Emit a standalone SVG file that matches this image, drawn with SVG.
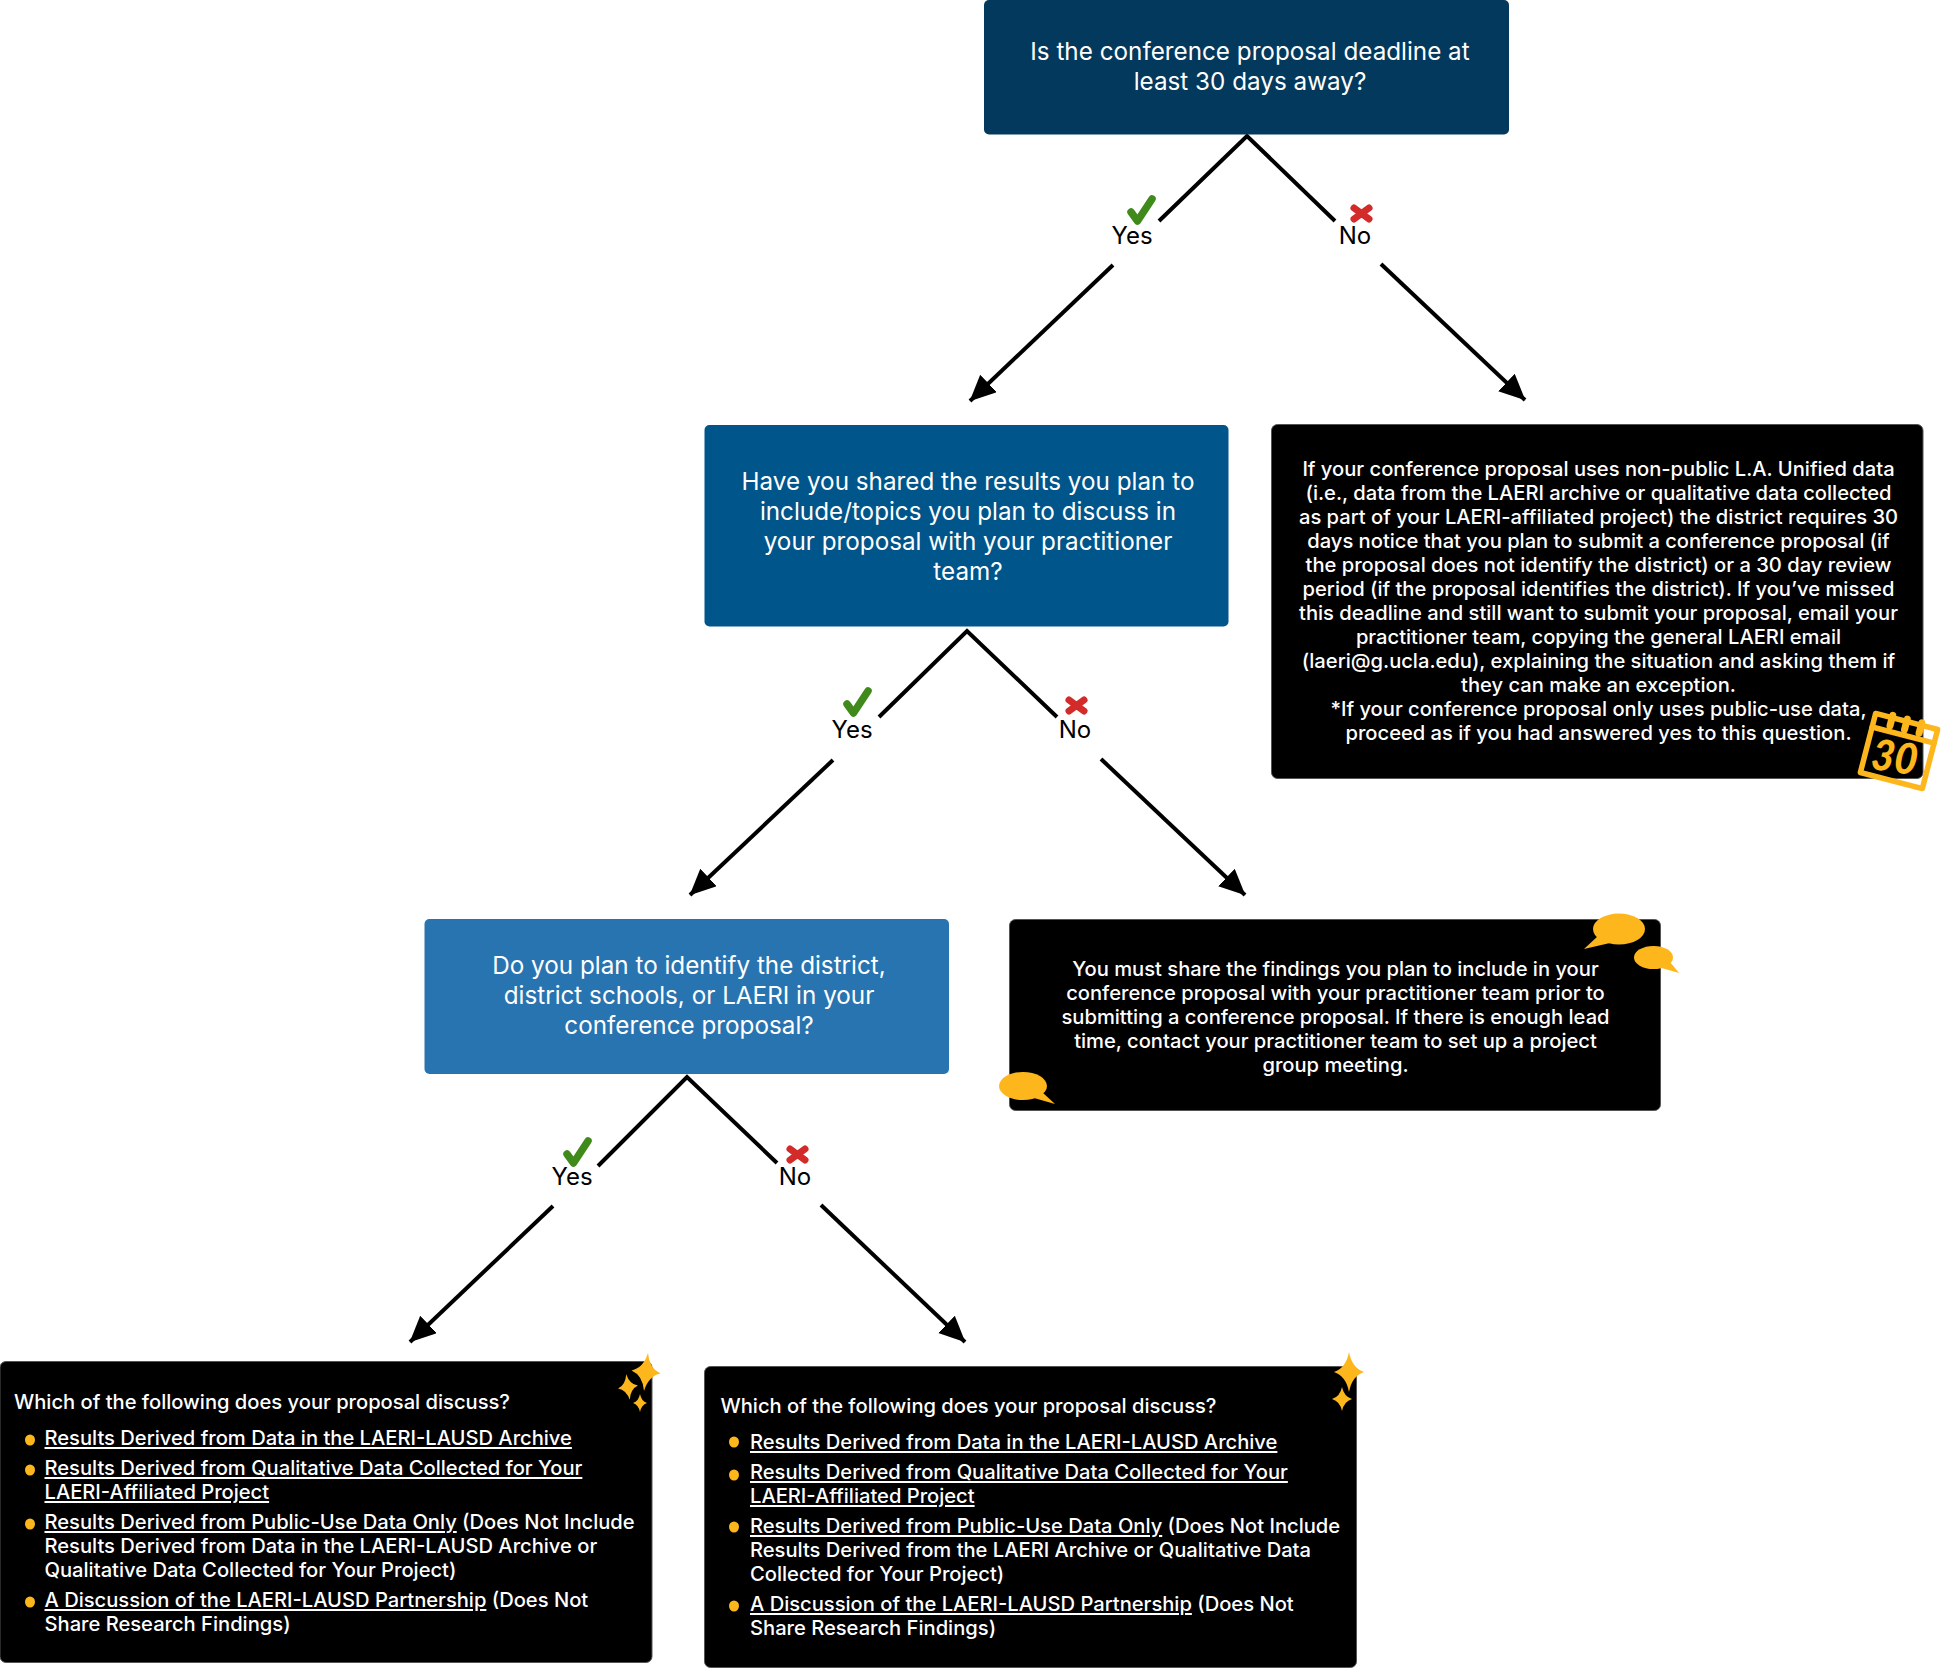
<svg xmlns="http://www.w3.org/2000/svg" width="1944" height="1669" viewBox="0 0 1944 1669">
<style>
text{font-family:Inter,"Noto Sans","Liberation Sans",sans-serif;fill:#fff}
.q{font-size:24.250px;text-anchor:middle}
.b{font-size:20.150px;font-weight:500;text-anchor:middle}
.l{font-size:20.150px;font-weight:500}
.u{text-decoration:underline;text-underline-offset:4px;text-decoration-thickness:1.500px}
.yn{font-size:24px;fill:#000;text-anchor:middle}
.blk{fill:#000;stroke:#555;stroke-width:1}
.g{fill:#fdb71c}
.c{stroke:#000;stroke-width:4;fill:none}
.a{marker-end:url(#ah)}
.chk{fill:none;stroke:#3f8a1b;stroke-width:7.500;stroke-linecap:round;stroke-linejoin:round}
.x{fill:none;stroke:#d32a2a;stroke-width:7;stroke-linecap:round}
.cal{fill:none;stroke:#fdb71c;stroke-width:5.500;stroke-linejoin:round;stroke-linecap:round}
</style>
<defs>
<marker id="ah" markerUnits="userSpaceOnUse" markerWidth="30" markerHeight="30" refX="25.500" refY="12" orient="auto"><path d="M0 0L26 12L0 24Z" fill="#000"/></marker>
<g id="chk"><path class="chk" d="M0 13L6.500 22L21 0"/></g>
<g id="xm"><path class="x" d="M0 0L15 11M15 0L0 11"/></g>
<path id="sp" d="M0 -1Q.2 -.2 1 0Q.2 .2 0 1Q-.2 .2 -1 0Q-.2 -.2 0 -1Z"/>
</defs>
<g id="connectors">
<path class="c" d="M1159 221L1247 136L1335 221"/>
<line class="c a" x1="1113" y1="265" x2="970" y2="401"/>
<line class="c a" x1="1381" y1="264" x2="1525" y2="400"/>
<path class="c" d="M879 717L967 631L1057 717"/>
<line class="c a" x1="833" y1="760" x2="690" y2="895"/>
<line class="c a" x1="1101" y1="759" x2="1245" y2="895"/>
<path class="c" d="M598 1166L687 1077L777 1163"/>
<line class="c a" x1="553" y1="1206" x2="410" y2="1342"/>
<line class="c a" x1="821" y1="1205" x2="965" y2="1342"/>
</g>
<g id="label-yes-1"><use href="#chk" x="1131" y="199"/><text class="yn" x="1132" y="244">Yes</text></g>
<g id="label-no-1"><use href="#xm" x="1354" y="208"/><text class="yn" x="1355" y="244">No</text></g>
<g id="label-yes-2"><use href="#chk" x="847" y="691"/><text class="yn" x="852" y="738">Yes</text></g>
<g id="label-no-2"><use href="#xm" x="1069" y="700"/><text class="yn" x="1075" y="738">No</text></g>
<g id="label-yes-3"><use href="#chk" x="567" y="1141"/><text class="yn" x="572" y="1185">Yes</text></g>
<g id="label-no-3"><use href="#xm" x="790" y="1149"/><text class="yn" x="795" y="1185">No</text></g>

<g id="q1"><rect x="984" y="0" width="525" height="134.500" rx="5" fill="#03395c"/>
<text class="q" x="1250" y="60">Is the conference proposal deadline at</text>
<text class="q" x="1250" y="90">least 30 days away?</text></g>
<g id="q2"><rect x="704.500" y="425" width="524" height="201.500" rx="5" fill="#00558a"/>
<text class="q" x="968" y="490">Have you shared the results you plan to</text>
<text class="q" x="968" y="520">include/topics you plan to discuss in</text>
<text class="q" x="968" y="550">your proposal with your practitioner</text>
<text class="q" x="968" y="579.500">team?</text></g>
<g id="q3"><rect x="424.500" y="919" width="524.500" height="155" rx="5" fill="#2874b0"/>
<text class="q" x="689" y="974">Do you plan to identify the district,</text>
<text class="q" x="689" y="1004">district schools, or LAERI in your</text>
<text class="q" x="689" y="1034">conference proposal?</text></g>

<g id="note-30-days"><rect class="blk" x="1271.500" y="424.500" width="651.500" height="354" rx="6"/>
<text class="b" x="1598.500" y="476">If your conference proposal uses non-public L.A. Unified data</text>
<text class="b" x="1598.500" y="500">(i.e., data from the LAERI archive or qualitative data collected</text>
<text class="b" x="1598.500" y="524">as part of your LAERI-affiliated project) the district requires 30</text>
<text class="b" x="1598.500" y="548">days notice that you plan to submit a conference proposal (if</text>
<text class="b" x="1598.500" y="572">the proposal does not identify the district) or a 30 day review</text>
<text class="b" x="1598.500" y="596">period (if the proposal identifies the district). If you’ve missed</text>
<text class="b" x="1598.500" y="620">this deadline and still want to submit your proposal, email your</text>
<text class="b" x="1598.500" y="644">practitioner team, copying the general LAERI email</text>
<text class="b" x="1598.500" y="668">(laeri@g.ucla.edu), explaining the situation and asking them if</text>
<text class="b" x="1598.500" y="692">they can make an exception.</text>
<text class="b" x="1598.500" y="716">*If your conference proposal only uses public-use data,</text>
<text class="b" x="1598.500" y="740">proceed as if you had answered yes to this question.</text>
<g id="calendar" transform="translate(1899 751) rotate(14.500)">
<rect class="cal" x="-32" y="-30.500" width="64" height="61"/>
<path class="cal" d="M-32 -16.500H32"/>
<path class="cal" style="stroke-width:7" d="M-15 -33V-22M0 -33V-22M15 -33V-22"/>
<text x="0" y="0" transform="translate(-1 22) rotate(-6) scale(.92 1)" text-anchor="middle" style="font-family:Lato,sans-serif;font-size:43px;font-weight:900;font-style:italic;fill:#fdb71c">30</text>
</g></g>

<g id="note-share"><rect class="blk" x="1009.500" y="919.500" width="651" height="191" rx="6"/>
<text class="b" x="1335.500" y="975.500">You must share the findings you plan to include in your</text>
<text class="b" x="1335.500" y="999.500">conference proposal with your practitioner team prior to</text>
<text class="b" x="1335.500" y="1023.500">submitting a conference proposal. If there is enough lead</text>
<text class="b" x="1335.500" y="1047.500">time, contact your practitioner team to set up a project</text>
<text class="b" x="1335.500" y="1071.500">group meeting.</text>
<g class="g">
<ellipse cx="1619" cy="929" rx="26" ry="15.500"/><path d="M1598 936L1584 949L1610 943Z"/>
<ellipse cx="1653.500" cy="957.500" rx="19.500" ry="11.500"/><path d="M1666 957L1679 973L1658 967Z"/>
<ellipse cx="1023" cy="1086" rx="24" ry="14"/><path d="M1042 1092L1055 1104L1034 1098Z"/>
</g></g>

<g id="note-identify"><rect class="blk" x="0" y="1361.500" width="652" height="301" rx="6"/>
<text class="l" x="14" y="1409">Which of the following does your proposal discuss?</text>
<text class="l" x="44.500" y="1445"><tspan class="u">Results Derived from Data in the LAERI-LAUSD Archive</tspan></text>
<text class="l" x="44.500" y="1475"><tspan class="u">Results Derived from Qualitative Data Collected for Your</tspan></text>
<text class="l" x="44.500" y="1499"><tspan class="u">LAERI-Affiliated Project</tspan></text>
<text class="l" x="44.500" y="1529"><tspan class="u">Results Derived from Public-Use Data Only</tspan> (Does Not Include</text>
<text class="l" x="44.500" y="1553">Results Derived from Data in the LAERI-LAUSD Archive or</text>
<text class="l" x="44.500" y="1577">Qualitative Data Collected for Your Project)</text>
<text class="l" x="44.500" y="1607"><tspan class="u">A Discussion of the LAERI-LAUSD Partnership</tspan> (Does Not</text>
<text class="l" x="44.500" y="1631">Share Research Findings)</text>
<g class="g"><ellipse cx="30" cy="1440" rx="5" ry="5.500"/><ellipse cx="30" cy="1470" rx="5" ry="5.500"/><ellipse cx="30" cy="1524" rx="5" ry="5.500"/><ellipse cx="30" cy="1602" rx="5" ry="5.500"/>
<use href="#sp" transform="translate(646 1372) rotate(6) scale(14.500 19)"/>
<use href="#sp" transform="translate(628 1387) rotate(-8) scale(10 13)"/>
<use href="#sp" transform="translate(640 1403) scale(7 9)"/></g></g>

<g id="note-no-identify"><rect class="blk" x="704.500" y="1366.500" width="652" height="301" rx="6"/>
<text class="l" x="720.500" y="1413">Which of the following does your proposal discuss?</text>
<text class="l" x="750" y="1449"><tspan class="u">Results Derived from Data in the LAERI-LAUSD Archive</tspan></text>
<text class="l" x="750" y="1479"><tspan class="u">Results Derived from Qualitative Data Collected for Your</tspan></text>
<text class="l" x="750" y="1503"><tspan class="u">LAERI-Affiliated Project</tspan></text>
<text class="l" x="750" y="1533"><tspan class="u">Results Derived from Public-Use Data Only</tspan> (Does Not Include</text>
<text class="l" x="750" y="1557">Results Derived from the LAERI Archive or Qualitative Data</text>
<text class="l" x="750" y="1581">Collected for Your Project)</text>
<text class="l" x="750" y="1611"><tspan class="u">A Discussion of the LAERI-LAUSD Partnership</tspan> (Does Not</text>
<text class="l" x="750" y="1635">Share Research Findings)</text>
<g class="g"><ellipse cx="734" cy="1442" rx="5" ry="5.500"/><ellipse cx="734" cy="1475" rx="5" ry="5.500"/><ellipse cx="734" cy="1527" rx="5" ry="5.500"/><ellipse cx="734" cy="1606" rx="5" ry="5.500"/>
<use href="#sp" transform="translate(1349 1372) scale(15 20)"/>
<use href="#sp" transform="translate(1342 1399) scale(10 12)"/></g></g>
</svg>
